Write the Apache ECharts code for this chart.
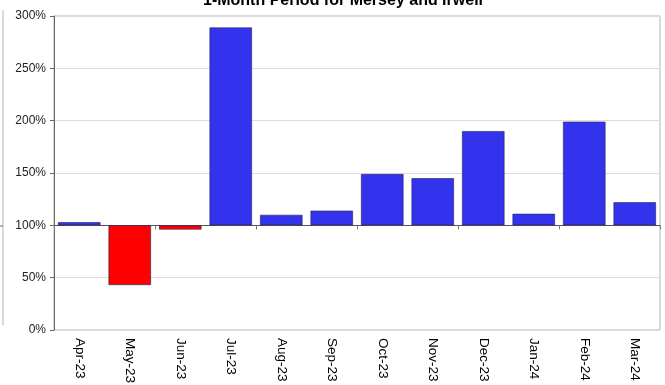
<!DOCTYPE html>
<html>
<head>
<meta charset="utf-8">
<script src="https://cdn.jsdelivr.net/npm/echarts@6/dist/echarts.min.js"></script>
<style>
  html, body { margin: 0; padding: 0; background: #fff; }
  #chart { width: 665px; height: 385px; }
</style>
</head>
<body>
<div id="chart"></div>
<script>
// Monthly rainfall as a percentage of the long-term average
const months = ['Apr-23', 'May-23', 'Jun-23', 'Jul-23', 'Aug-23', 'Sep-23',
                'Oct-23', 'Nov-23', 'Dec-23', 'Jan-24', 'Feb-24', 'Mar-24'];
const percentOfAverage = [103, 43, 96, 289, 110, 114, 149, 145, 190, 111, 199, 122];
const baseline = 100;
const yTicks = [0, 50, 100, 150, 200, 250, 300];

const aboveColor = '#3333ee';
const belowColor = '#ff0000';

// Bars grow from the 100% line: an invisible stack segment up to the lower end,
// then the visible segment spanning the gap between the value and 100%.
const hiddenBase = percentOfAverage.map(v => Math.min(v, baseline));
const visiblePart = percentOfAverage.map(v => ({
  value: Math.abs(v - baseline),
  itemStyle: { color: v >= baseline ? aboveColor : belowColor }
}));

const chart = echarts.init(document.getElementById('chart'), null, { renderer: 'canvas' });

const gridTop = 16, gridBottom = 55, chartH = 385;
const plotH = chartH - gridTop - gridBottom;
const yMax = yTicks[yTicks.length - 1];
const font = 'Liberation Sans, Arial, sans-serif';

chart.setOption({
  animation: false,
  backgroundColor: '#ffffff',
  title: {
    text: '1-Month Period for Mersey and Irwell',
    left: 338,
    textAlign: 'center',
    top: -12,
    textStyle: { fontFamily: font, fontSize: 16, fontWeight: 'bold', color: '#000' }
  },
  grid: {
    left: 54, right: 5, top: gridTop, bottom: gridBottom,
    outerBoundsMode: 'none',
    containLabel: false,
    show: true, borderColor: '#b4b4b4', borderWidth: 1, backgroundColor: 'transparent'
  },
  xAxis: [
    {
      type: 'category',
      data: months,
      position: 'bottom',
      axisLine: { show: false },
      axisTick: { show: false },
      axisLabel: {
        rotate: -90,
        margin: 8,
        fontFamily: font,
        fontSize: 13.5,
        color: '#000'
      }
    },
    {
      type: 'category',
      data: months,
      position: 'bottom',
      offset: -plotH * baseline / yMax,
      axisLine: { show: true, lineStyle: { color: '#555', width: 1 } },
      axisTick: { show: true, length: 4, lineStyle: { color: '#777' } },
      axisLabel: { show: false }
    }
  ],
  yAxis: {
    type: 'value',
    min: 0,
    max: yMax,
    interval: 50,
    axisLine: { show: true, lineStyle: { color: '#666' } },
    axisTick: { show: true, length: 4, lineStyle: { color: '#666' } },
    splitLine: { show: true, lineStyle: { color: '#dcdcdc' } },
    axisLabel: {
      formatter: v => v + '%',
      margin: 8,
      fontFamily: font,
      fontSize: 12,
      color: '#222'
    }
  },
  series: [
    {
      type: 'bar',
      stack: 'rain',
      xAxisIndex: 1,
      data: hiddenBase,
      barWidth: '84%',
      itemStyle: { color: 'transparent' },
      silent: true
    },
    {
      type: 'bar',
      stack: 'rain',
      xAxisIndex: 1,
      data: visiblePart,
      barWidth: '84%',
      itemStyle: { borderColor: '#222255', borderWidth: 0.6 }
    }
  ],
  graphic: [
    {
      type: 'line',
      shape: { x1: 3, y1: 10, x2: 3, y2: 325 },
      style: { stroke: '#b4b4b4', lineWidth: 1 }
    },
    {
      type: 'line',
      shape: { x1: 0, y1: 226, x2: 3, y2: 226 },
      style: { stroke: '#666', lineWidth: 1 }
    }
  ]
});
</script>
</body>
</html>
